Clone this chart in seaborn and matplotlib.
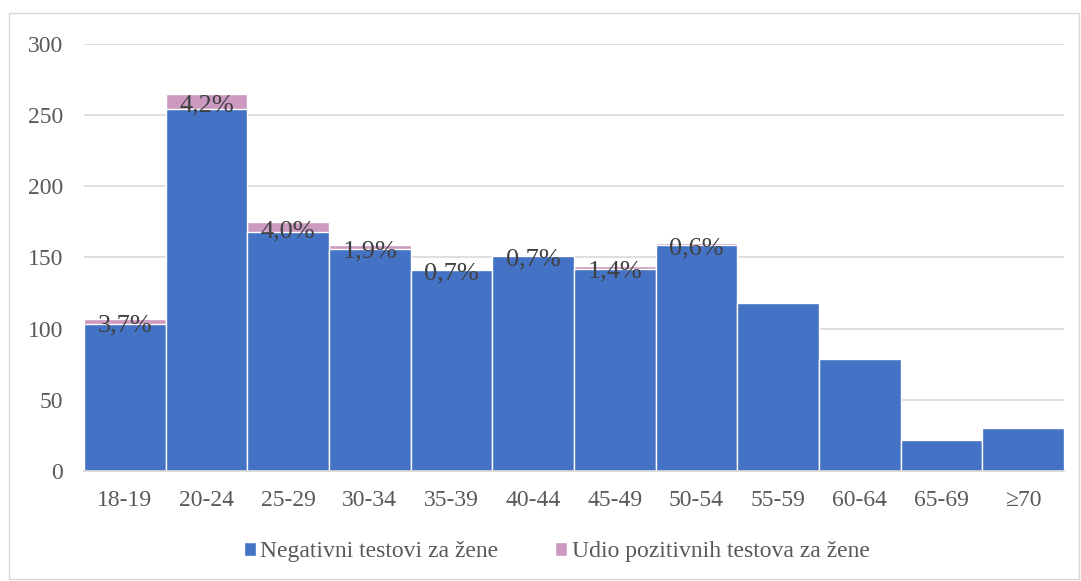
import numpy as np
import pandas as pd
import matplotlib
matplotlib.use("Agg")
import matplotlib.pyplot as plt
import seaborn as sns
from matplotlib.patches import Rectangle, Patch

age_groups = ["18-19", "20-24", "25-29", "30-34", "35-39", "40-44",
              "45-49", "50-54", "55-59", "60-64", "65-69", "≥70"]
negative = [103, 254, 168, 156, 141, 151, 142, 159, 118, 79, 22, 30]
positive = [4, 11, 7, 3, 1, 1, 2, 1, 0, 0, 0, 0]
pct_positive = [3.7, 4.2, 4.0, 1.9, 0.7, 0.7, 1.4, 0.6, None, None, None, None]

sns.set_theme(style="white")
plt.rcParams["font.family"] = ["Liberation Serif", "DejaVu Serif"]

df = pd.DataFrame({"age": age_groups, "neg": negative, "pos": positive})
df["total"] = df["neg"] + df["pos"]

blue = "#4472c4"
pink = "#cc99c0"

fig = plt.figure(figsize=(10.81, 5.81), dpi=100)
ax = fig.add_axes([0.0777, 0.1893, 0.9066, 0.735])

sns.barplot(data=df, x="age", y="total", color=pink, width=1.0, saturation=1,
            edgecolor="white", linewidth=1, ax=ax)
sns.barplot(data=df, x="age", y="neg", color=blue, width=1.0, saturation=1,
            edgecolor="white", linewidth=1, ax=ax)

# percentage labels centred on the small pink segment
for i, p in enumerate(pct_positive):
    if p is None:
        continue
    y = negative[i] + positive[i] / 2
    ax.annotate(f"{p:.1f}%".replace(".", ","), (i, y), xytext=(0, -3),
                textcoords="offset points", ha="center", va="center",
                fontsize=19, color="#404040")

ax.set_ylim(0, 300)
ax.set_xlim(-0.5, len(age_groups) - 0.5)
ax.set_yticks(np.arange(0, 301, 50))
ax.yaxis.grid(True, color="#d9d9d9", linewidth=1.2)
ax.set_axisbelow(True)
for s in ["top", "right", "left"]:
    ax.spines[s].set_visible(False)
ax.spines["bottom"].set_color("#d9d9d9")
ax.set_xlabel("")
ax.set_ylabel("")
ax.tick_params(axis="both", length=0, labelsize=17, labelcolor="#595959")
ax.tick_params(axis="y", pad=15)
ax.tick_params(axis="x", pad=14)

handles = [Patch(facecolor=blue, label="Negativni testovi za žene"),
           Patch(facecolor=pink, label="Udio pozitivnih testova za žene")]
fig.legend(handles=handles, loc="center", bbox_to_anchor=(0.515, 0.05), ncol=2,
           frameon=False, fontsize=17, handlelength=0.5, handleheight=0.5,
           handletextpad=0.2, columnspacing=2.4, labelcolor="#595959")

fig.patches.append(Rectangle((0.008, 0.003), 0.99, 0.975, transform=fig.transFigure,
                             fill=False, edgecolor="#d9d9d9", linewidth=1))

fig.savefig("out.png", dpi=100)
